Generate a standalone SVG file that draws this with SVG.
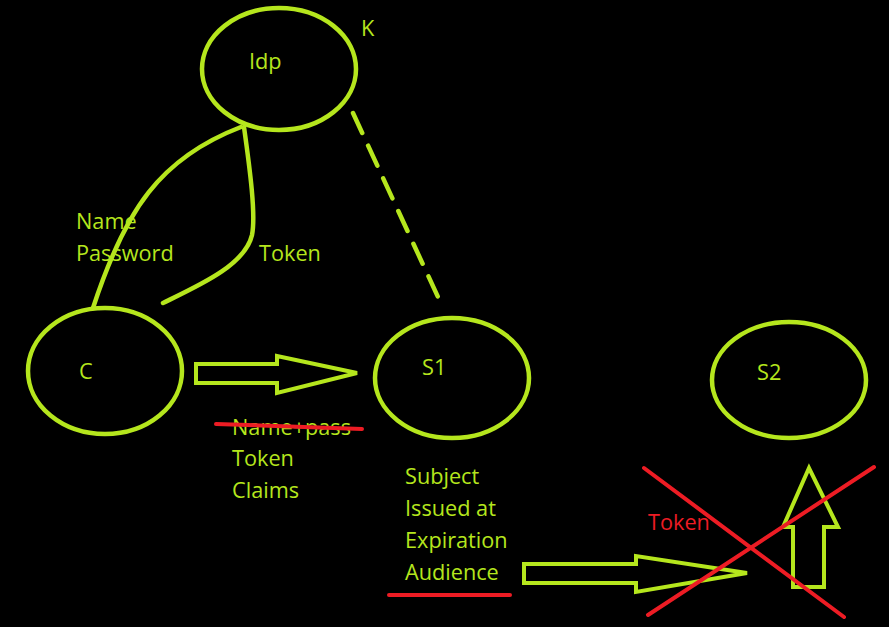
<svg xmlns="http://www.w3.org/2000/svg" width="889" height="627" viewBox="0 0 889 627">
<style>
.n{fill:none;stroke:#b5e61d;stroke-width:4.5}
.t{font-family:"Open Sans","Noto Sans","DejaVu Sans",sans-serif;font-size:21.7px;fill:#b5e61d}
.r{fill:none;stroke:#ed1c24;stroke-width:4;stroke-linecap:round}
.rt{font-family:"Open Sans","Noto Sans","DejaVu Sans",sans-serif;font-size:21.7px;fill:#ed1c24}
.c{fill:none;stroke:#b5e61d;stroke-width:4.5;stroke-linecap:round}
.a{fill:none;stroke:#b5e61d;stroke-width:4;stroke-linejoin:miter}
</style>
<rect width="889" height="627" fill="#000"/>
<g id="connectors">
<path class="c" d="M241,127 C160,158 125,210 93,308"/>
<path class="c" d="M244,127 C250,170 256,215 252,235 C245,265 200,285 163,303"/>
<path class="c" d="M353,113 L438,297" stroke-dasharray="22,14"/>
<path class="a" d="M196,364 L277,364 L277,356 L357,373 L277,393 L277,383 L196,383 Z"/>
<path class="a" d="M524,564 L636,564 L636,556 L747,573 L636,592 L636,583 L524,583 Z"/>
<path class="a" d="M793,587 L793,527 L783,527 L809,468 L838,527 L824,527 L824,587 Z"/>
</g>
<g id="Idp"><ellipse class="n" cx="279" cy="69" rx="77" ry="61"/><text class="t" x="249" y="69">Idp</text></g>
<g id="K"><text class="t" x="361" y="36">K</text></g>
<g id="C"><ellipse class="n" cx="105" cy="371" rx="77" ry="63"/><text class="t" x="79" y="379">C</text></g>
<g id="S1"><ellipse class="n" cx="452" cy="378" rx="77" ry="60"/><text class="t" x="422" y="375">S1</text></g>
<g id="S2"><ellipse class="n" cx="789" cy="380" rx="77" ry="58"/><text class="t" x="757" y="380">S2</text></g>
<g id="labels">
<text class="t" x="76" y="229">Name</text>
<text class="t" x="76" y="261">Password</text>
<text class="t" x="259" y="261">Token</text>
<text class="t" x="232" y="435">Name+pass</text>
<text class="t" x="232" y="466">Token</text>
<text class="t" x="232" y="498">Claims</text>
<text class="t" x="405" y="484">Subject</text>
<text class="t" x="405" y="516">Issued at</text>
<text class="t" x="405" y="548">Expiration</text>
<text class="t" x="405" y="580">Audience</text>
<text class="rt" x="648" y="530">Token</text>
</g>
<g id="red-marks">
<path class="r" d="M216,424 L362,429"/>
<path class="r" d="M389,595 L510,595"/>
<path class="r" d="M644,468 L844,617"/>
<path class="r" d="M648,615 L874,467"/>
</g>
</svg>
